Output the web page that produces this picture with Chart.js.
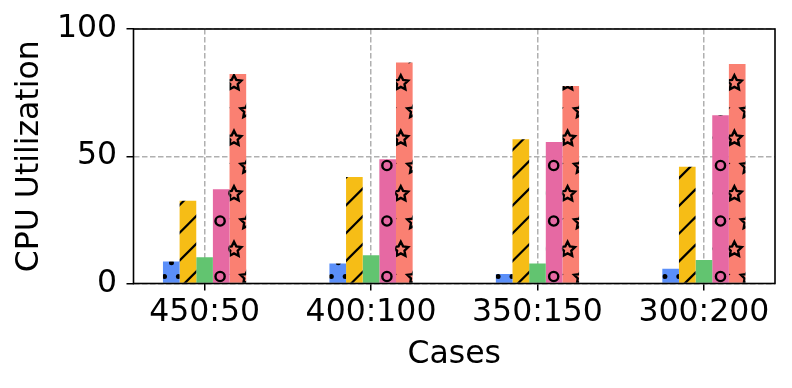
<!DOCTYPE html>
<html>
<head>
<meta charset="utf-8">
<script src="https://cdn.jsdelivr.net/npm/chart.js@4.4.0/dist/chart.umd.min.js"></script>
<style>
    html, body { margin: 0; padding: 0; background: #ffffff; }
    #wrap { width: 792px; height: 388px; position: relative; }
</style>
</head>
<body>
<div id="wrap"><canvas id="cpuChart"></canvas></div>
<script>

// data
const cases = ['450:50', '400:100', '350:150', '300:200'];
const dotVals = [8.6, 7.9, 3.7, 5.8];
const slashVals = [32.5, 41.8, 56.7, 45.9];
const plainVals = [10.3, 11.1, 7.9, 9.2];
const ringVals = [37.0, 48.8, 55.6, 66.1];
const starVals = [82.3, 86.8, 77.6, 86.2];
const yTicks = [0, 50, 100];

Chart.defaults.font.family = "'DejaVu Sans', sans-serif";
Chart.defaults.font.size = 31.5;
Chart.defaults.color = '#000000';

// hatch grid (same for every bar, anchored to the canvas)
const TW = 139, TH = 111;
const colStep = 27.8, rowStep = 27.75;
const x0 = 25.5, y0 = 54.5;

function makeTile(bg) {
    let c = document.createElement('canvas');
    c.width = TW;
    c.height = TH;
    let ctx = c.getContext('2d');
    ctx.fillStyle = bg;
    ctx.fillRect(0, 0, TW, TH);
    ctx.strokeStyle = '#000000';
    ctx.fillStyle = '#000000';
    return [c, ctx];
}

function eachWrap(fn) {
    for (let dx of [-TW, 0, TW]) {
        for (let dy of [-TH, 0, TH]) {
            fn(dx, dy);
        }
    }
}

function dotPattern(bg) {
    let [c, ctx] = makeTile(bg);
    let step = colStep / 2, rstep = rowStep / 2;
    for (let k = 0; k < 8; k++) {
        for (let i = 0; i < 10; i++) {
            let x = (x0 % step) + i * step + (k % 2 ? step / 2 : 0);
            let y = (y0 + k * rstep) % TH;
            eachWrap((dx, dy) => {
                ctx.beginPath();
                ctx.arc(x + dx, y + dy, 2.5, 0, Math.PI * 2);
                ctx.fill();
            });
        }
    }
    return ctx.createPattern(c, 'repeat');
}

function slashPattern(bg) {
    let [c, ctx] = makeTile(bg);
    ctx.lineWidth = 2.2;
    let start = 467.6 % rowStep;
    for (let m = -3; m < 12; m++) {
        let cc = start + m * rowStep;
        ctx.beginPath();
        ctx.moveTo(cc - (TH + 5), TH + 5);
        ctx.lineTo(cc + 5, -5);
        ctx.stroke();
    }
    return ctx.createPattern(c, 'repeat');
}

function shapePattern(bg, drawShape) {
    let [c, ctx] = makeTile(bg);
    ctx.lineWidth = 2.4;
    ctx.lineJoin = 'miter';
    for (let k = 0; k < 4; k++) {
        for (let i = 0; i < 5; i++) {
            let x = x0 + i * colStep + (k % 2 ? colStep / 2 : 0);
            let y = (y0 + k * rowStep) % TH;
            eachWrap((dx, dy) => drawShape(ctx, x + dx, y + dy));
        }
    }
    return ctx.createPattern(c, 'repeat');
}

function ring(ctx, x, y) {
    ctx.beginPath();
    ctx.arc(x, y, 4.6, 0, Math.PI * 2);
    ctx.stroke();
}

function star(ctx, x, y) {
    let R = 7.8, r = 3.9;
    ctx.beginPath();
    for (let p = 0; p < 10; p++) {
        let a = -Math.PI / 2 + p * Math.PI / 5;
        let rad = p % 2 ? r : R;
        let px = x + rad * Math.cos(a), py = y + 0.8 + rad * Math.sin(a);
        if (p === 0) ctx.moveTo(px, py); else ctx.lineTo(px, py);
    }
    ctx.closePath();
    ctx.stroke();
}

function toPoints(vals) {
    return vals.map((v, i) => ({x: i, y: v}));
}

// axes box drawn on top of the bars, like matplotlib spines
const boxPlugin = {
    id: 'box',
    afterDatasetsDraw(chart) {
        let {ctx, chartArea} = chart;
        ctx.save();
        ctx.strokeStyle = '#000000';
        ctx.lineWidth = 1.6;
        ctx.strokeRect(chartArea.left, chartArea.top, chartArea.right - chartArea.left, chartArea.bottom - chartArea.top);
        ctx.restore();
    }
};

let datasets = [
    {label: 'dots', data: toPoints(dotVals), backgroundColor: dotPattern('#5B8FF9')},
    {label: 'slash', data: toPoints(slashVals), backgroundColor: slashPattern('#F6BD16')},
    {label: 'plain', data: toPoints(plainVals), backgroundColor: '#62C470'},
    {label: 'ring', data: toPoints(ringVals), backgroundColor: shapePattern('#E669A3', ring)},
    {label: 'star', data: toPoints(starVals), backgroundColor: shapePattern('#FA8072', star)}
];
datasets.forEach(d => {
    d.borderWidth = 0;
    d.categoryPercentage = 0.5;
    d.barPercentage = 1.0;
});

let chart = new Chart(document.getElementById('cpuChart').getContext('2d'), {
    type: 'bar',
    data: {datasets},
    plugins: [boxPlugin],
    options: {
        responsive: true,
        maintainAspectRatio: false,
        animation: false,
        devicePixelRatio: 1,
        layout: {padding: {left: 0, top: 29, right: 17, bottom: 0}},
        plugins: {
            legend: {display: false},
            tooltip: {enabled: false}
        },
        scales: {
            x: {
                type: 'linear',
                min: -0.427,
                max: 3.427,
                offset: false,
                afterBuildTicks: scale => {
                    scale.ticks = cases.map((c, i) => ({value: i}));
                },
                afterFit: scale => { scale.height = 104.5; },
                ticks: {
                    autoSkip: false,
                    maxRotation: 0,
                    padding: 3,
                    callback: v => cases[v]
                },
                grid: {
                    offset: false,
                    color: '#b0b0b0',
                    lineWidth: 1.5,
                    tickLength: 7,
                    tickColor: '#000000',
                    tickWidth: 1.5
                },
                border: {display: false, dash: [5.5, 2.5]},
                title: {display: true, text: 'Cases', padding: {top: 0, bottom: 14}}
            },
            y: {
                min: 0,
                max: 100,
                afterBuildTicks: scale => {
                    scale.ticks = yTicks.map(v => ({value: v}));
                },
                afterFit: scale => { scale.width = 133.5; },
                ticks: {padding: 9.5},
                grid: {
                    color: '#b0b0b0',
                    lineWidth: 1.5,
                    tickLength: 7,
                    tickColor: '#000000',
                    tickWidth: 1.5
                },
                border: {display: false, dash: [5.5, 2.5]},
                title: {display: true, text: 'CPU Utilization', padding: {top: 11, bottom: 0}}
            }
        }
    }
});
</script>
</body>
</html>
